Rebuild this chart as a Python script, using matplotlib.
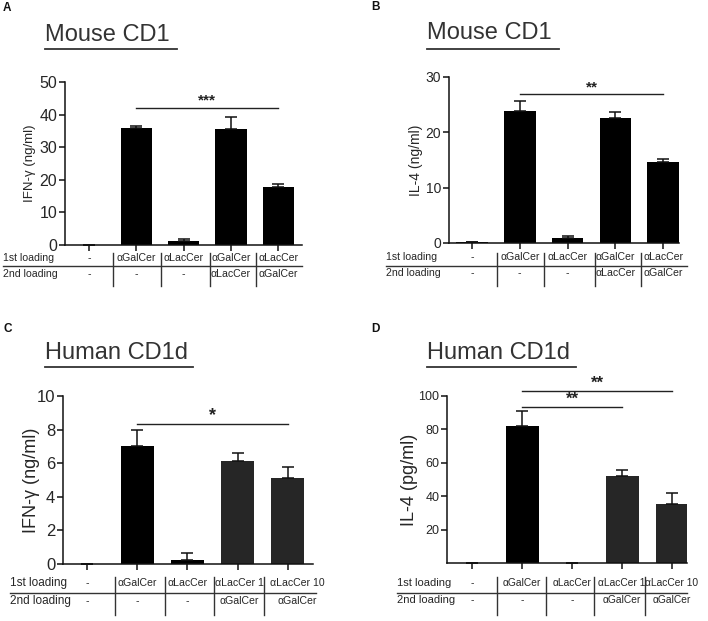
import matplotlib
matplotlib.use("Agg")
import matplotlib.pyplot as plt
from matplotlib.lines import Line2D
from matplotlib.transforms import blended_transform_factory

plt.rcParams['font.family'] = ['Liberation Sans', 'DejaVu Sans']

# ---- data ----
row1_mouse = ["-", "αGalCer", "αLacCer", "αGalCer", "αLacCer"]
row2_mouse = ["-", "-", "-", "αLacCer", "αGalCer"]
row1_human = ["-", "αGalCer", "αLacCer", "αLacCer 1", "αLacCer 10"]
row2_human = ["-", "-", "-", "αGalCer", "αGalCer"]

ifng_mouse = [0.0, 35.8, 1.25, 35.5, 17.7]
ifng_mouse_err = [0.0, 0.7, 0.45, 3.9, 0.9]
il4_mouse = [0.22, 23.9, 0.84, 22.5, 14.6]
il4_mouse_err = [0.05, 1.8, 0.5, 1.2, 0.65]
ifng_human = [0.0, 7.02, 0.26, 6.13, 5.1]
ifng_human_err = [0.0, 0.95, 0.4, 0.46, 0.65]
il4_human = [0.0, 82.2, 0.0, 52.0, 35.6]
il4_human_err = [0.0, 9.0, 0.0, 3.6, 6.1]

W, H = 708, 621
fig = plt.figure(figsize=(W / 100, H / 100), dpi=100)
TXT = "#262626"


def fy(y):
    return 1 - y / H


def panel(letter, lpos, title, tpos, uline, rect, vals, errs, colors, ylabel,
          ylab_x, ylim, yticks, tick_fs, ylab_fs, r1, r2, rows_y, hline,
          seps_x, seps_y, tab_fs, row_fs, rowlab_x, xlim, sig, text_dx=None):
    l, t, r, b = rect
    ax = fig.add_axes([l / W, fy(b), (r - l) / W, (b - t) / H])
    x = list(range(len(vals)))
    ax.bar(x, vals, width=0.66, color=colors, zorder=2)
    ax.errorbar(x, vals, yerr=[[0] * len(errs), errs], fmt="none",
                ecolor="#111111", elinewidth=1.1, capsize=4.5, capthick=1.1, zorder=3)
    ax.set_xlim(*xlim)
    ax.set_ylim(*ylim)
    ax.set_yticks(yticks)
    ax.set_xticks(x)
    ax.set_xticklabels([])
    for s in ["top", "right"]:
        ax.spines[s].set_visible(False)
    for s in ["left", "bottom"]:
        ax.spines[s].set_linewidth(1.1)
        ax.spines[s].set_color("#111111")
    ax.tick_params(axis="both", direction="out", length=4, width=1.1,
                   color="#111111", labelsize=tick_fs, labelcolor=TXT, pad=1.5)
    ax.set_ylabel(ylabel, fontsize=ylab_fs, color=TXT, va="center")
    ax.yaxis.set_label_coords((ylab_x - l) / (r - l), 0.5)

    # significance bars
    for x0, x1, yv, stars, fs in sig:
        ax.plot([x0, x1], [yv, yv], color="#222222", lw=1.0, clip_on=False)
        ax.text((x0 + x1) / 2, yv, stars, ha="center", va="bottom",
                fontsize=fs, fontweight="bold", color="#222222")

    # loading table under the axis
    if text_dx is None:
        text_dx = [0] * len(x)
    tr = blended_transform_factory(ax.transData, fig.transFigure)
    for i in x:
        ax.text(i + text_dx[i], fy(rows_y[0]), r1[i], transform=tr, ha="center",
                va="center", fontsize=tab_fs, color=TXT, clip_on=False)
        ax.text(i + text_dx[i], fy(rows_y[1]), r2[i], transform=tr, ha="center",
                va="center", fontsize=tab_fs, color=TXT, clip_on=False)
    for sx in seps_x:
        ax.plot([sx, sx], [fy(seps_y[0]), fy(seps_y[1])], transform=tr,
                color="#333333", lw=1.0, clip_on=False)
    fig.add_artist(Line2D([hline[0] / W, hline[1] / W], [fy(hline[2])] * 2,
                          color="#333333", lw=1.0))
    fig.text(rowlab_x / W, fy(rows_y[0]), "1st loading", ha="left", va="center",
             fontsize=row_fs, color=TXT)
    fig.text(rowlab_x / W, fy(rows_y[1]), "2nd loading", ha="left", va="center",
             fontsize=row_fs, color=TXT)

    # title with underline and panel letter
    fig.text(tpos[0] / W, fy(tpos[1]), title, ha="left", va="center",
             fontsize=17, color="#333333")
    fig.add_artist(Line2D([uline[0] / W, uline[1] / W], [fy(uline[2])] * 2,
                          color="#333333", lw=1.3))
    fig.text(lpos[0] / W, fy(lpos[1]), letter, ha="left", va="center",
             fontsize=8.5, fontweight="bold", color="#111111")
    return ax


panel("A", (3, 8), "Mouse CD1", (45, 35), (45, 177, 49), (65, 82, 302, 245),
      ifng_mouse, ifng_mouse_err, ["black"] * 5, "IFN-γ (ng/ml)", 30,
      (0, 50), [0, 10, 20, 30, 40, 50], 11.5, 9.5, row1_mouse, row2_mouse,
      (258, 274), (3, 302, 266), [0.5, 1.52, 2.55, 3.52], (253, 286), 7.6, 7.6, 3,
      (-0.51, 4.5), [(1, 4, 42.1, "***", 11)])

panel("B", (371, 7), "Mouse CD1", (427, 33), (427, 559, 49), (449, 77, 679, 243),
      il4_mouse, il4_mouse_err, ["black"] * 5, "IL-4 (ng/ml)", 416,
      (0, 30), [0, 10, 20, 30], 10, 10, row1_mouse, row2_mouse,
      (257, 273), (386, 687, 266), [0.52, 1.5, 2.57, 3.53], (253, 286), 7.6, 7.6, 386,
      (-0.48, 4.33), [(1, 4, 26.9, "**", 11)])

panel("C", (3, 329), "Human CD1d", (45, 353), (45, 193, 367), (63, 396, 313, 564),
      ifng_human, ifng_human_err, ["black", "black", "black", "#262626", "#262626"],
      "IFN-γ (ng/ml)", 32, (0, 10), [0, 2, 4, 6, 8, 10], 12, 13,
      row1_human, row2_human, (583, 601), (10, 316, 593), [0.56, 1.56, 2.52, 3.53],
      (577, 615), 7.6, 8.5, 10, (-0.48, 4.5), [(1, 4, 8.33, "*", 13)],
      text_dx=[0, 0, 0, 0.03, 0.18])

panel("D", (371, 329), "Human CD1d", (427, 353), (427, 576, 367), (447, 396, 687, 563),
      il4_human, il4_human_err, ["black", "black", "black", "#262626", "#262626"],
      "IL-4 (pg/ml)", 409, (0, 100), [20, 40, 60, 80, 100], 9, 13,
      row1_human, row2_human, (583, 600), (397, 687, 593), [0.5, 1.48, 2.44, 3.46],
      (577, 615), 7.4, 8, 397, (-0.5, 4.3),
      [(1, 4, 103, "**", 12), (1, 3, 93.6, "**", 12)])

fig.savefig("out.png", dpi=100)
plt.close(fig)
